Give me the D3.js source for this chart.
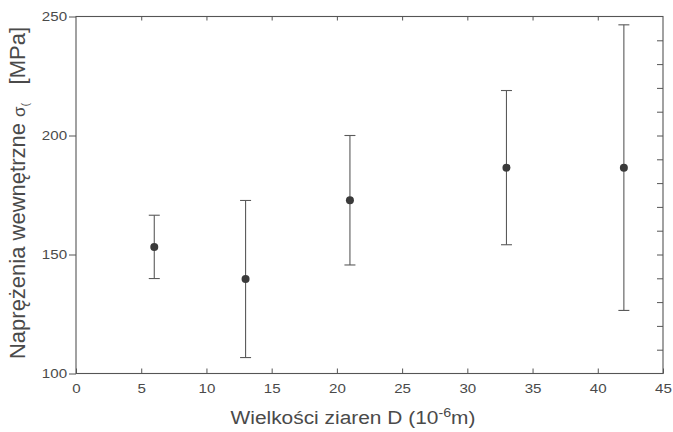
<!DOCTYPE html>
<html>
<head>
<meta charset="utf-8">
<script src="https://cdn.jsdelivr.net/npm/d3@7"></script>
<style>
  html, body { margin: 0; padding: 0; background: #fff; }
  svg { display: block; font-family: "Liberation Sans", Arial, sans-serif; }
</style>
</head>
<body>
<svg id="chart" width="673" height="432"></svg>
<script>
// Grain size (10^-6 m) against internal stress (MPa), mean ± deviation
const grainSize = [6, 13, 21, 33, 42];
const stressMean = [153.2, 139.7, 172.8, 186.5, 186.5];
const stressDev = [13.3, 33.0, 27.2, 32.4, 60.0];

const xTicks = [0, 5, 10, 15, 20, 25, 30, 35, 40, 45];
const yTicks = [100, 150, 200, 250];
const yMinorTicks = [110, 120, 130, 140, 150, 160, 170, 180, 190, 200, 210, 220, 230, 240];

const xLabel = "Wielkości ziaren D (10";
const yLabel = "Naprężenia wewnętrzne ";

const svg = d3.select("#chart");
const margin = { left: 76, top: 16.5, right: 10, bottom: 58.5 };
const W = 673, H = 432;

const x = d3.scaleLinear().domain([0, 45]).range([margin.left, W - margin.right]);
const y = d3.scaleLinear().domain([100, 250]).range([H - margin.bottom, margin.top]);

const ink = "#555";
const textInk = "#4a4a4a";

// plot frame
svg.append("rect")
  .attr("x", x(0)).attr("y", y(250))
  .attr("width", x(45) - x(0)).attr("height", y(100) - y(250))
  .attr("fill", "none").attr("stroke", ink).attr("stroke-width", 1.1);

function styleAxis(g) {
  g.select(".domain").remove();
  g.selectAll(".tick line").attr("stroke", ink).attr("stroke-width", 1);
  g.selectAll(".tick text").attr("fill", textInk).attr("font-size", 13.5)
    .attr("font-family", "Liberation Sans, Arial, sans-serif")
    .attr("transform", "scale(1.12,1)");
}

// bottom axis: ticks pointing inward
svg.append("g")
  .attr("transform", `translate(0,${y(100)})`)
  .call(d3.axisBottom(x).tickValues(xTicks).tickSizeInner(-5).tickSizeOuter(0).tickPadding(10))
  .call(styleAxis);

// top axis: inward ticks, no labels
svg.append("g")
  .attr("transform", `translate(0,${y(250)})`)
  .call(d3.axisTop(x).tickValues(xTicks.slice(1, -1)).tickSizeInner(-4).tickSizeOuter(0).tickFormat(""))
  .call(styleAxis);

// left axis: outward ticks with labels
svg.append("g")
  .attr("transform", `translate(${x(0)},0)`)
  .call(d3.axisLeft(y).tickValues(yTicks).tickSizeInner(7).tickSizeOuter(0).tickPadding(1))
  .call(styleAxis);

// right axis: inward minor ticks
svg.append("g")
  .attr("transform", `translate(${x(45)},0)`)
  .call(d3.axisRight(y).tickValues(yMinorTicks).tickSizeInner(-6).tickSizeOuter(0).tickFormat(""))
  .call(styleAxis);

// error bars
const data = grainSize.map((g, i) => ({ x: g, m: stressMean[i], d: stressDev[i] }));
const capHalf = 5.5;
const bars = svg.append("g").attr("stroke", "#5a5a5a").attr("stroke-width", 1.1);
data.forEach(p => {
  const cx = x(p.x);
  bars.append("line").attr("x1", cx).attr("x2", cx).attr("y1", y(p.m - p.d)).attr("y2", y(p.m + p.d));
  bars.append("line").attr("x1", cx - capHalf).attr("x2", cx + capHalf).attr("y1", y(p.m + p.d)).attr("y2", y(p.m + p.d));
  bars.append("line").attr("x1", cx - capHalf).attr("x2", cx + capHalf).attr("y1", y(p.m - p.d)).attr("y2", y(p.m - p.d));
});

// mean markers
svg.append("g").selectAll("circle").data(data).join("circle")
  .attr("cx", d => x(d.x)).attr("cy", d => y(d.m)).attr("r", 4)
  .attr("fill", "#3a3a3a");

// x axis title
const xt = svg.append("text")
  .attr("transform", "translate(353,424) scale(1.1,1)")
  .attr("text-anchor", "middle").attr("fill", textInk).attr("font-size", 19);
xt.append("tspan").text(xLabel);
xt.append("tspan").attr("dy", -7).attr("font-size", 13).text("-6");
xt.append("tspan").attr("dy", 7).text("m)");

// y axis title
const yt = svg.append("text")
  .attr("transform", `translate(25,193) rotate(-90)`)
  .attr("text-anchor", "middle").attr("fill", textInk).attr("font-size", 22);
yt.append("tspan").text(yLabel);
yt.append("tspan").attr("font-size", 17).text("σ");
yt.append("tspan").attr("dy", 4).attr("font-size", 11).text("(");
yt.append("tspan").attr("dy", -4).attr("xml:space", "preserve").text("   [MPa]");
</script>
</body>
</html>
